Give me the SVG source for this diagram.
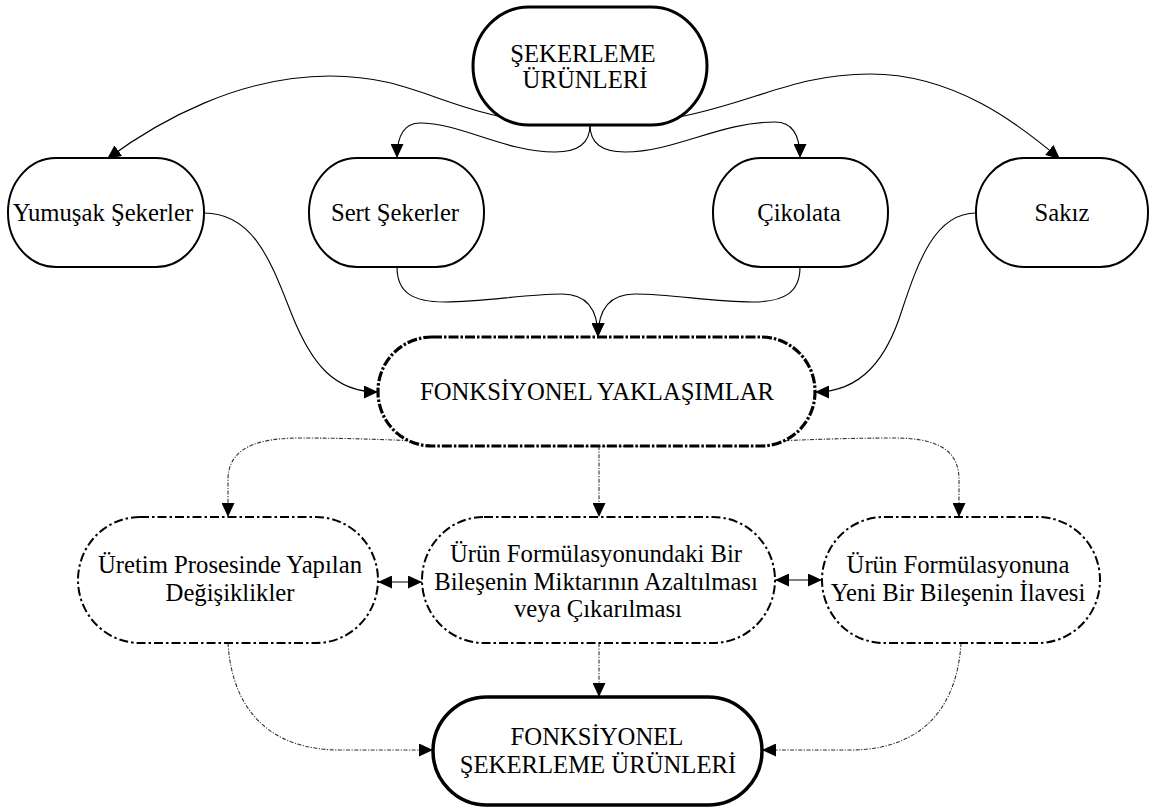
<svg xmlns="http://www.w3.org/2000/svg" width="1151" height="808" viewBox="0 0 1151 808">
<style>
text{font-family:"Liberation Serif","Times New Roman",serif;font-size:24.7px;fill:#000;text-anchor:middle}
.n{fill:#fff;stroke:#000}
.top{stroke-width:3}
.row{stroke-width:2}
.fy{stroke-width:3.2;stroke-dasharray:10 2 2.5 2}
.mid{stroke-width:2;stroke-dasharray:9 3 2.5 3}
.bot{stroke-width:3.5}
.c{fill:none;stroke:#000;stroke-width:1.1}
.d{fill:none;stroke:#333;stroke-width:1.1;stroke-dasharray:4 1.5 1.2 1.5}
</style>
<defs>
<marker id="ah" markerWidth="15" markerHeight="13" refX="14" refY="6.5" orient="auto" markerUnits="userSpaceOnUse"><path d="M0,0 L14,6.5 L0,13 z" fill="#000"/></marker>
<marker id="ah2" markerWidth="15" markerHeight="13" refX="14" refY="6.5" orient="auto-start-reverse" markerUnits="userSpaceOnUse"><path d="M0,0 L14,6.5 L0,13 z" fill="#000"/></marker>
</defs>
<g id="connectors">
<path class="c" marker-end="url(#ah)" d="M590,125 C450,125 430,76 330,76 C240,76 160,120 107,159"/>
<path class="c" marker-end="url(#ah)" d="M590,125 C730,125 770,74 870,74 C955,74 1020,125 1060,159"/>
<path class="c" marker-end="url(#ah)" d="M590,125 C590,145 575,152 555,152 C505,152 460,123 420,123 C405,123 397,135 397,158"/>
<path class="c" marker-end="url(#ah)" d="M590,125 C590,145 605,152 625,152 C675,152 720,122 775,122 C792,122 800,135 800,158"/>
<path class="c" marker-end="url(#ah)" d="M204,213 C255,213 272,265 292,315 C312,365 335,392 378,392"/>
<path class="c" marker-end="url(#ah)" d="M397,267 C397,292 412,302 445,302 C485,302 525,294 562,294 C585,294 598,307 598,337"/>
<path class="c" marker-end="url(#ah)" d="M800,267 C800,292 785,302 752,302 C712,302 672,294 635,294 C612,294 598,307 598,337"/>
<path class="c" marker-end="url(#ah)" d="M976,213 C935,213 918,262 902,310 C887,358 862,392 815,392"/>
<path class="d" marker-end="url(#ah)" d="M597,446 C480,446 400,438 300,438 C245,438 228,455 228,480 L228,517"/>
<path class="d" marker-end="url(#ah)" d="M597,446 C714,446 794,438 894,438 C945,438 959,455 959,480 L959,517"/>
<path class="d" marker-end="url(#ah)" d="M599,446 L599,517"/>
<path class="c" marker-start="url(#ah2)" marker-end="url(#ah2)" d="M378,582 L422,582"/>
<path class="c" marker-start="url(#ah2)" marker-end="url(#ah2)" d="M775,580 L822,580"/>
<path class="d" marker-end="url(#ah)" d="M228,643 C232,710 270,750 340,750 L433,750"/>
<path class="d" marker-end="url(#ah)" d="M961,643 C957,710 920,750 850,750 L762,750"/>
<path class="d" marker-end="url(#ah)" d="M599,643 L599,697"/>
</g>
<g id="n-sekerleme">
<rect class="n top" x="473" y="7" width="234" height="118" rx="56" ry="59"/>
<text x="583" y="62">ŞEKERLEME</text>
<text x="585" y="88">ÜRÜNLERİ</text>
</g>
<g id="n-yumusak">
<rect class="n row" x="8" y="158" width="196" height="109" rx="48" ry="54"/>
<text x="103" y="221">Yumuşak Şekerler</text>
</g>
<g id="n-sert">
<rect class="n row" x="309" y="158" width="175" height="109" rx="48" ry="54"/>
<text x="395" y="221">Sert Şekerler</text>
</g>
<g id="n-cikolata">
<rect class="n row" x="713" y="158" width="175" height="109" rx="48" ry="54"/>
<text x="799" y="221">Çikolata</text>
</g>
<g id="n-sakiz">
<rect class="n row" x="976" y="158" width="172" height="109" rx="48" ry="54"/>
<text x="1062" y="221">Sakız</text>
</g>
<g id="n-fy">
<rect class="n fy" x="378" y="337" width="437" height="109" rx="54" ry="54"/>
<text x="597" y="400">FONKSİYONEL YAKLAŞIMLAR</text>
</g>
<g id="n-uretim">
<rect class="n mid" x="78" y="517" width="300" height="126" rx="62" ry="63"/>
<text x="230" y="573">Üretim Prosesinde Yapılan</text>
<text x="230" y="601">Değişiklikler</text>
</g>
<g id="n-azaltma">
<rect class="n mid" x="422" y="517" width="353" height="126" rx="62" ry="63"/>
<text x="596" y="562">Ürün Formülasyonundaki Bir</text>
<text x="596" y="590">Bileşenin Miktarının Azaltılması</text>
<text x="598" y="617">veya Çıkarılması</text>
</g>
<g id="n-ilave">
<rect class="n mid" x="822" y="517" width="278" height="126" rx="62" ry="63"/>
<text x="958" y="573">Ürün Formülasyonuna</text>
<text x="958" y="601">Yeni Bir Bileşenin İlavesi</text>
</g>
<g id="n-fonk-urun">
<rect class="n bot" x="433" y="697" width="329" height="108" rx="54" ry="54"/>
<text x="597" y="745">FONKSİYONEL</text>
<text x="598" y="773">ŞEKERLEME ÜRÜNLERİ</text>
</g>
</svg>
